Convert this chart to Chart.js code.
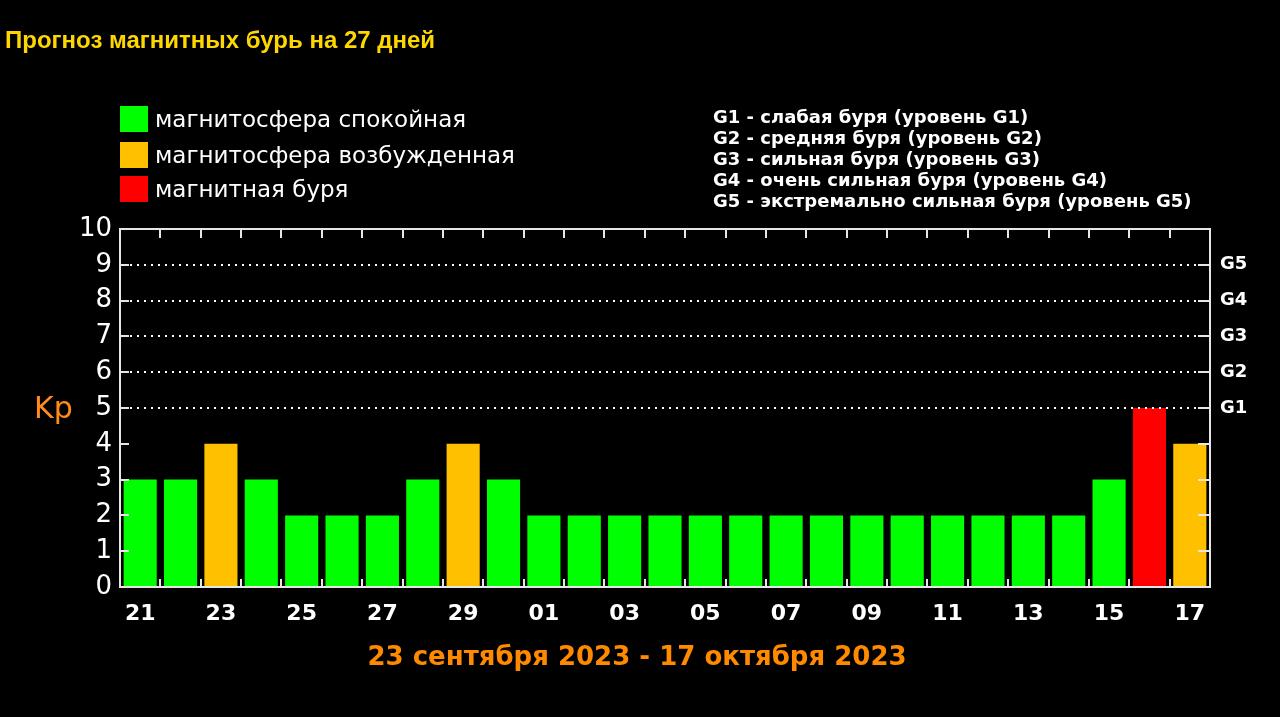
<!DOCTYPE html>
<html>
<head>
<meta charset="utf-8">
<script src="https://cdn.jsdelivr.net/npm/chart.js@4.4.0/dist/chart.umd.min.js"></script>
<style>
  html, body { margin: 0; padding: 0; background: #000; }
  #wrap { position: relative; width: 1280px; height: 717px; overflow: hidden; background: #000; }
  #chart { position: absolute; left: 0; top: 0; }
  .txt { position: absolute; white-space: nowrap; }
  #title { left: 5px; top: 26px; color: #ffd700; font: bold 24px "Liberation Sans", Arial, sans-serif; }
  .leg { left: 120px; color: #fff; font: 23px "DejaVu Sans", sans-serif; line-height: 26px; }
  .leg span { display: inline-block; width: 28px; height: 26px; vertical-align: top; margin-right: 7px; }
  #gleg { left: 713px; top: 106px; color: #fff; font: bold 18px "DejaVu Sans", sans-serif; line-height: 21px; }
  #kp { left: 34px; top: 390px; color: #ff8c1a; font: 30px "DejaVu Sans", sans-serif; }
  #range { left: 0; width: 1274px; text-align: center; top: 641px; color: #ff8a00; font: bold 26px "DejaVu Sans", sans-serif; }
</style>
</head>
<body>
<div id="wrap">
  <canvas id="chart" width="1280" height="717"></canvas>
  <div class="txt" id="title">Прогноз магнитных бурь на 27 дней</div>
  <div class="txt leg" style="top:106px"><span style="background:#00ff00"></span>магнитосфера спокойная</div>
  <div class="txt leg" style="top:142px"><span style="background:#ffc000"></span>магнитосфера возбужденная</div>
  <div class="txt leg" style="top:176px"><span style="background:#ff0000"></span>магнитная буря</div>
  <div class="txt" id="gleg">
    G1 - слабая буря (уровень G1)<br>
    G2 - средняя буря (уровень G2)<br>
    G3 - сильная буря (уровень G3)<br>
    G4 - очень сильная буря (уровень G4)<br>
    G5 - экстремально сильная буря (уровень G5)
  </div>
  <div class="txt" id="kp">Kp</div>
  <div class="txt" id="range">23 сентября 2023 - 17 октября 2023</div>
</div>
<script>
// days of the forecast
var days = ['21','22','23','24','25','26','27','28','29','30',
  '01','02','03','04','05','06','07','08','09','10','11','12','13','14','15','16','17'];
// Kp index per day
var kp = [3,3,4,3,2,2,2,3,4,3,
  2,2,2,2,2,2,2,2,2,2,2,2,2,2,3,5,4];
// storm levels on the right axis (Kp 5..9)
var gLevels = [5,6,7,8,9];
var gNames = ['G1','G2','G3','G4','G5'];

var GREEN = '#00ff00', ORANGE = '#ffc000', RED = '#ff0000';
var FRAME = '#e6e6e6';

function barColor(v) {
  if (v >= 5) return RED;
  if (v >= 4) return ORANGE;
  return GREEN;
}

// frame, inward ticks and dotted lines like the original picture
var framePlugin = {
  id: 'frame',
  afterDatasetsDraw: function(chart) {
    var c = chart.ctx, a = chart.chartArea;
    var ys = chart.scales.y;
    c.save();
    // dotted lines
    c.strokeStyle = '#ffffff';
    c.lineWidth = 2;
    c.setLineDash([2, 5]);
    gLevels.forEach(function(v) {
      var y = Math.round(ys.getPixelForValue(v));
      c.beginPath();
      c.moveTo(a.left + 10, y);
      c.lineTo(a.right - 10, y);
      c.stroke();
    });
    c.setLineDash([]);
    c.strokeStyle = FRAME;
    // y ticks both sides
    for (var v = 1; v <= 9; v++) {
      var y = Math.round(ys.getPixelForValue(v));
      c.beginPath();
      c.moveTo(a.left, y); c.lineTo(a.left + 9, y);
      c.moveTo(a.right, y); c.lineTo(a.right - 12, y);
      c.stroke();
    }
    // x ticks at day boundaries, top and bottom
    var step = (a.right - a.left) / days.length;
    for (var i = 1; i < days.length; i++) {
      var x = Math.round(a.left + i * step);
      c.beginPath();
      c.moveTo(x, a.top); c.lineTo(x, a.top + 9);
      c.moveTo(x, a.bottom); c.lineTo(x, a.bottom - 8);
      c.stroke();
    }
    // frame
    c.lineWidth = 2;
    c.strokeRect(a.left, a.top, a.right - a.left, a.bottom - a.top);
    c.restore();
  }
};

var ctx = document.getElementById('chart');
var chart = new Chart(ctx, {
  type: 'bar',
  data: {
    labels: days,
    datasets: [{
      data: kp,
      backgroundColor: kp.map(barColor),
      borderWidth: 0,
      barPercentage: 0.82,
      categoryPercentage: 1.0
    }]
  },
  options: {
    responsive: false,
    animation: false,
    layout: { padding: { top: 229, left: 0, right: 0, bottom: 0 } },
    plugins: { legend: { display: false }, tooltip: { enabled: false } },
    scales: {
      x: {
        grid: { display: false, drawTicks: false },
        border: { display: false },
        ticks: {
          color: '#ffffff',
          autoSkip: false,
          maxRotation: 0,
          padding: 14,
          font: { family: 'DejaVu Sans', weight: 'bold', size: 22 },
          callback: function(val, i) { return i % 2 === 0 ? days[i] : ''; }
        },
        afterFit: function(s) { s.height = 130; }
      },
      y: {
        position: 'left',
        min: 0, max: 10,
        grid: { display: false, drawTicks: false },
        border: { display: false },
        ticks: {
          stepSize: 1,
          color: '#ffffff',
          padding: 8,
          font: { family: 'DejaVu Sans', size: 26 }
        },
        afterFit: function(s) { s.width = 120; }
      },
      y2: {
        position: 'right',
        min: 0, max: 10,
        grid: { display: false, drawTicks: false },
        border: { display: false },
        ticks: {
          stepSize: 1,
          color: '#ffffff',
          padding: 10,
          font: { family: 'DejaVu Sans', weight: 'bold', size: 18 },
          callback: function(v) {
            var k = gLevels.indexOf(v);
            return k >= 0 ? gNames[k] : '';
          }
        },
        afterFit: function(s) { s.width = 70; }
      }
    }
  },
  plugins: [framePlugin]
});
</script>
</body>
</html>
